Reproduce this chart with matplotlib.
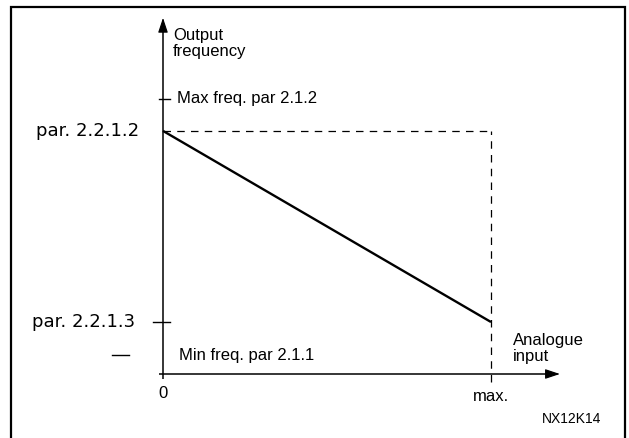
import matplotlib
matplotlib.use("Agg")
import matplotlib.pyplot as plt
from matplotlib.patches import Rectangle

# ---- data (normalised units: input 0..max -> 0..1, frequency max freq = 1) ----
input_points = [0.0, 1.0]
output_freq = [0.884, 0.189]
max_freq = 1.0
min_freq = 0.069
x_tick_labels = ["0", "max."]
y_left_labels = ["par. 2.2.1.2", "par. 2.2.1.3"]
inner_labels = ["Max freq. par 2.1.2", "Min freq. par 2.1.1"]
y_axis_title = "Output\nfrequency"
x_axis_title = "Analogue\ninput"
figure_code = "NX12K14"

W, H = 629, 438
fig = plt.figure(figsize=(W / 100, H / 100), dpi=100)
ax = fig.add_axes([0, 0, 1, 1])
# origin at pixel (163, 374); 328 px per input unit, 275 px per frequency unit
ax.set_xlim(-163 / 328, (W - 163) / 328)
ax.set_ylim(-(H - 374) / 275, 374 / 275)
ax.axis("off")

font = "Liberation Sans"
font2 = "DejaVu Sans"
k = "black"

# outer frame
fig.patches.append(Rectangle((11 / W, -0.02), (625 - 11) / W, (H - 7) / H + 0.02,
                             transform=fig.transFigure, fill=False, lw=1.6, ec=k))

# axes with arrows
x_end = 1.21
y_end = 1.295
ax.plot([-0.012, x_end - 0.03], [0, 0], color=k, lw=1.1, solid_capstyle="butt")
ax.plot([0, 0], [-0.018, y_end - 0.03], color=k, lw=1.1, solid_capstyle="butt")
ax.annotate("", xy=(x_end, 0), xytext=(x_end - 0.04, 0),
            arrowprops=dict(arrowstyle="-|>,head_length=0.9,head_width=0.3", color=k, lw=0.8,
                            shrinkA=0, shrinkB=0))
ax.annotate("", xy=(0, y_end), xytext=(0, y_end - 0.05),
            arrowprops=dict(arrowstyle="-|>,head_length=0.9,head_width=0.3", color=k, lw=0.8,
                            shrinkA=0, shrinkB=0))

# dashed guides
ax.plot([input_points[0], input_points[1]], [output_freq[0], output_freq[0]],
        color=k, lw=0.9, ls=(0, (6, 5)))
ax.plot([input_points[1], input_points[1]], [-0.03, output_freq[0]],
        color=k, lw=0.9, ls=(0, (6, 5)))

# main characteristic line
ax.plot(input_points, output_freq, color=k, lw=1.7, solid_capstyle="butt")

# ticks on y axis
ax.plot([-0.012, 0.022], [max_freq, max_freq], color=k, lw=1.0)
ax.plot([-0.03, 0.022], [output_freq[1], output_freq[1]], color=k, lw=1.0)
# lone dash for min freq
ax.plot([-0.155, -0.104], [min_freq, min_freq], color=k, lw=1.0)

# labels
ax.text(-0.073, output_freq[0], y_left_labels[0], ha="right", va="center",
        fontsize=13, family=font2)
ax.text(-0.085, output_freq[1], y_left_labels[1], ha="right", va="center",
        fontsize=13, family=font2)
ax.text(0.043, max_freq, inner_labels[0], ha="left", va="center", fontsize=12, family=font)
ax.text(0.05, min_freq, inner_labels[1], ha="left", va="center", fontsize=12, family=font)
ax.text(0.03, 1.202, y_axis_title, ha="left", va="center", fontsize=12, family=font,
        linespacing=1.12)
ax.text(1.068, 0.093, x_axis_title, ha="left", va="center", fontsize=12, family=font,
        linespacing=1.12)
ax.text(0.0, -0.072, x_tick_labels[0], ha="center", va="center", fontsize=12, family=font)
ax.text(1.0, -0.081, x_tick_labels[1], ha="center", va="center", fontsize=12, family=font)
ax.text(1.335, -0.165, figure_code, ha="right", va="center", fontsize=10, family=font)

fig.savefig("out.png", dpi=100)
